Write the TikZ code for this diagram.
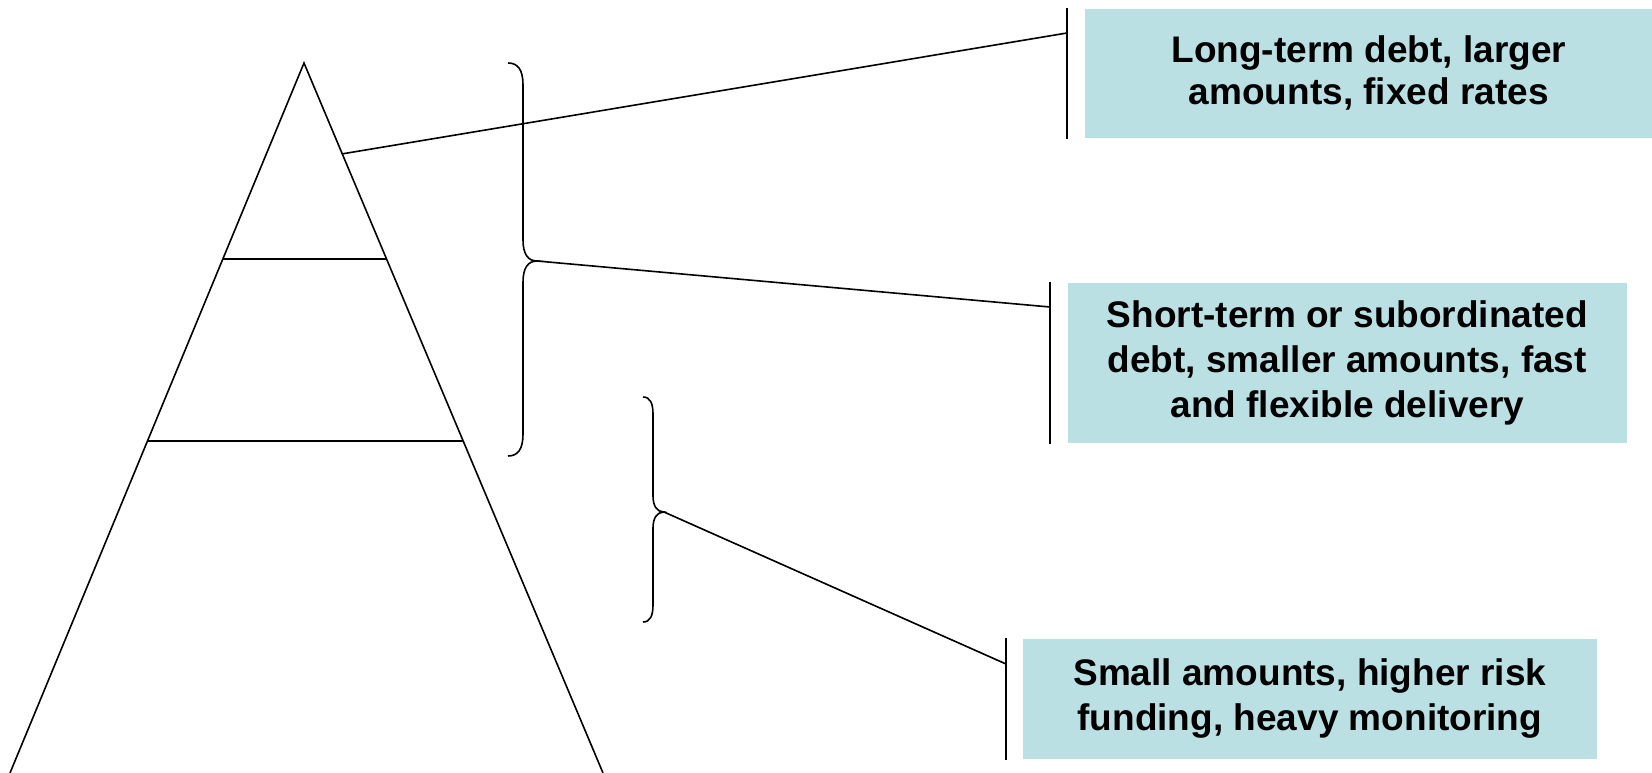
\documentclass[tikz,border=0pt]{standalone}
\usepackage{fontspec}
\setmainfont{Liberation Sans}
\usepackage{tikz}
\usetikzlibrary{positioning, calc}
\definecolor{boxfill}{RGB}{187,224,227}

\begin{document}
\begin{tikzpicture}[x=1pt, y=-1pt, line width=1.6pt,
    infobox/.style={fill=boxfill, draw=none, align=center, anchor=north west, inner sep=0pt,
      font=\fontsize{37}{45}\selectfont\bfseries}]

  \useasboundingbox (0,0) rectangle (1652,773);

  % pyramid
  \coordinate (apex) at (304,63);
  \coordinate (baseL) at (10,773);
  \coordinate (baseR) at (603,773);
  \draw (baseL) -- (apex) -- (baseR);
  \draw ($(apex)!0.276!(baseL)$) -- ($(apex)!0.276!(baseR)$);
  \draw ($(apex)!0.532!(baseL)$) -- ($(apex)!0.532!(baseR)$);
  \coordinate (top) at ($(apex)!0.128!(baseR)$);

  % braces
  \draw (508,63) .. controls (518,63) and (523,70) .. (523,85) -- (523,240)
    .. controls (523,254) and (528,261) .. (537,261) coordinate (tip1)
    .. controls (528,261) and (523,268) .. (523,282) -- (523,434)
    .. controls (523,449) and (518,456) .. (508,456);
  \draw (643,397) .. controls (650,397) and (653,403) .. (653,414) -- (653,496)
    .. controls (653,506) and (657,512) .. (664,512) coordinate (tip2)
    .. controls (657,512) and (653,518) .. (653,528) -- (653,605)
    .. controls (653,616) and (650,622) .. (643,622);

  % boxes
  \node[infobox, minimum width=568pt, minimum height=129pt,
    font=\fontsize{37}{42}\selectfont\bfseries] (longterm) at (1084,8)
    {Long-term debt, larger\\amounts, fixed rates};
  \node[infobox, minimum width=559pt, minimum height=160pt] (shortterm) at (1067,282)
    {Short-term or subordinated\\debt, smaller amounts, fast\\and flexible delivery};
  \node[infobox, minimum width=574pt, minimum height=120pt] (small) at (1022,638)
    {Small amounts, higher risk\\funding, heavy monitoring};

  % bars beside the boxes
  \draw ($(longterm.north west)+(-17,0)$) -- ($(longterm.south west)+(-17,0)$);
  \draw ($(shortterm.north west)+(-17,0)$) -- ($(shortterm.south west)+(-17,0)$);
  \draw ($(small.north west)+(-16,0)$) -- ($(small.south west)+(-16,0)$);
  \coordinate (end1) at ($(longterm.north west)+(-17,25)$);
  \coordinate (end2) at ($(shortterm.north west)+(-17,25)$);
  \coordinate (end3) at ($(small.north west)+(-16,26)$);

  % connectors
  \draw (top) -- (end1);
  \draw (tip1) -- (end2);
  \draw (tip2) -- (end3);
\end{tikzpicture}
\end{document}
